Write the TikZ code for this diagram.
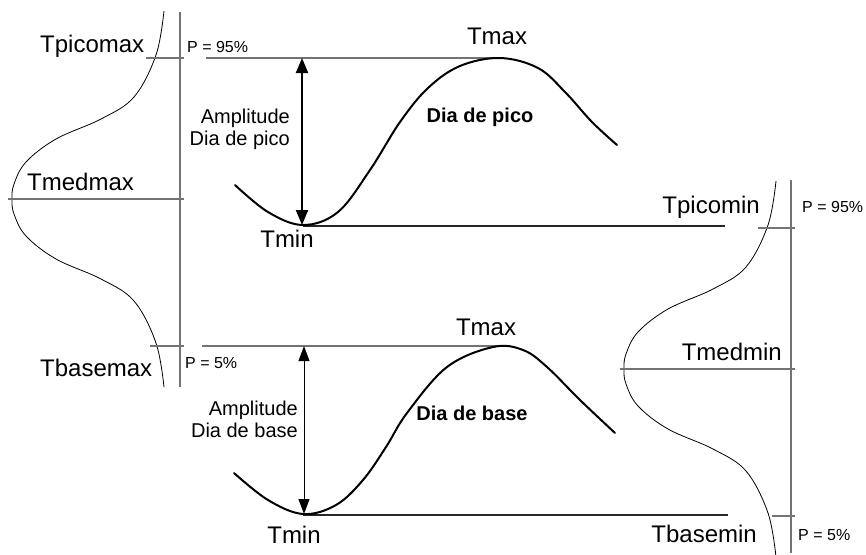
\documentclass[tikz,border=0pt]{standalone}
\usepackage{fontspec}
\setmainfont{Liberation Sans}
\usetikzlibrary{arrows.meta}
\tikzset{
  big/.style={font=\fontsize{24}{26}\selectfont, inner sep=0pt},
  small/.style={font=\fontsize{16}{18}\selectfont, inner sep=0pt},
  mid/.style={font=\fontsize{20}{22}\selectfont, inner sep=0pt, align=right},
  boldlab/.style={font=\fontsize{20}{22}\selectfont\bfseries, inner sep=0pt},
  axisline/.style={draw=black!55, line width=1.1pt},
  refline/.style={draw=black!55, line width=1.3pt},
  minline/.style={draw=black!85, line width=1.1pt},
  distcurve/.style={draw=black, line width=0.8pt},
  daycurve/.style={draw=black, line width=2pt, line cap=round},
  bigarrow/.style={line width=2pt, {Triangle[length=15pt,width=12pt]}-{Triangle[length=15pt,width=12pt]}},
  thinarrow/.style={line width=1pt, {Triangle[length=15pt,width=11pt]}-{Triangle[length=15pt,width=11pt]}},
}
\newcommand{\distshape}{plot[smooth, tension=0.6] coordinates {(152,-188) (144,-144) (122,-102) (89,-80) (44,-60) (14,-37) (2,-15) (0,0) (2,15) (14,37) (44,60) (89,80) (122,102) (144,144) (152,188)}}
\begin{document}
\begin{tikzpicture}[x=1pt,y=-1pt]
\useasboundingbox (0,0) rectangle (866,554);

% ---------- left distribution (Tmax) ----------
\draw[distcurve, shift={(12,199)}] \distshape;
\draw[axisline] (180,12) -- (180,387);
\draw[axisline] (146,58) -- (184,58);
\draw[axisline] (8,199) -- (184,199);
\draw[axisline] (150,346) -- (184,346);

\node[big, anchor=base west] (tpicomax) at (40,52) {Tpicomax};
\node[big, anchor=base west] (tmedmax) at (27,190) {Tmedmax};
\node[big, anchor=base west] (tbasemax) at (40,376) {Tbasemax};
\node[small, anchor=base west] (p95a) at (187,52) {P = 95\%};
\node[small, anchor=base west] (p5a) at (185,368) {P = 5\%};

% ---------- right distribution (Tmin) ----------
\draw[distcurve, shift={(624,369)}] \distshape;
\draw[axisline] (791,180) -- (791,553);
\draw[axisline] (758,228) -- (795,228);
\draw[axisline] (620,369) -- (795,369);
\draw[axisline] (772,516) -- (795,516);

\node[big, anchor=base east] (tpicomin) at (760,213) {Tpicomin};
\node[big, anchor=base east] (tmedmin) at (782,360) {Tmedmin};
\node[big, anchor=base east] (tbasemin) at (757,542) {Tbasemin};
\node[small, anchor=base west] (p95b) at (802,212) {P = 95\%};
\node[small, anchor=base west] (p5b) at (798,540) {P = 5\%};

% ---------- peak day ----------
\coordinate (ptop) at (302,58);
\coordinate (pbot) at (302,225);
\draw[refline] (206,58) -- (500,58);
\draw[minline] (303,226) -- (725,226);
\draw[daycurve] plot[smooth, tension=0.6] coordinates {(235,185) (268,212) (303,225) (338,212) (370,170) (400,122) (428,88) (460,66) (500,58) (538,68) (565,92) (592,122) (617,145)};
\draw[bigarrow] (ptop) -- (pbot);

\node[mid, anchor=base east] (amp1) at (290,123) {Amplitude};
\node[mid, anchor=base east] (amp1b) at (290,145) {Dia de pico};
\node[big, anchor=base] (tmax1) at (497,44) {Tmax};
\node[big, anchor=base] (tmin1) at (287,247) {Tmin};
\node[boldlab, anchor=base] (dpico) at (480,122) {Dia de pico};

% ---------- base day ----------
\coordinate (btop) at (304,346);
\coordinate (bbot) at (304,514);
\draw[refline] (202,346) -- (497,346);
\draw[minline] (303,515) -- (728,515);
\draw[daycurve] plot[smooth, tension=0.6] coordinates {(234,473) (268,500) (303,514) (336,505) (363,480) (386,447) (407,413) (447,367) (493,347) (523,350) (547,367) (580,400) (615,433)};
\draw[thinarrow] (btop) -- (bbot);

\node[mid, anchor=base east] (amp2) at (298,415) {Amplitude};
\node[mid, anchor=base east] (amp2b) at (298,437) {Dia de base};
\node[big, anchor=base] (tmax2) at (486,335) {Tmax};
\node[big, anchor=base] (tmin2) at (294,543) {Tmin};
\node[boldlab, anchor=base] (dbase) at (472,420) {Dia de base};
\end{tikzpicture}
\end{document}
